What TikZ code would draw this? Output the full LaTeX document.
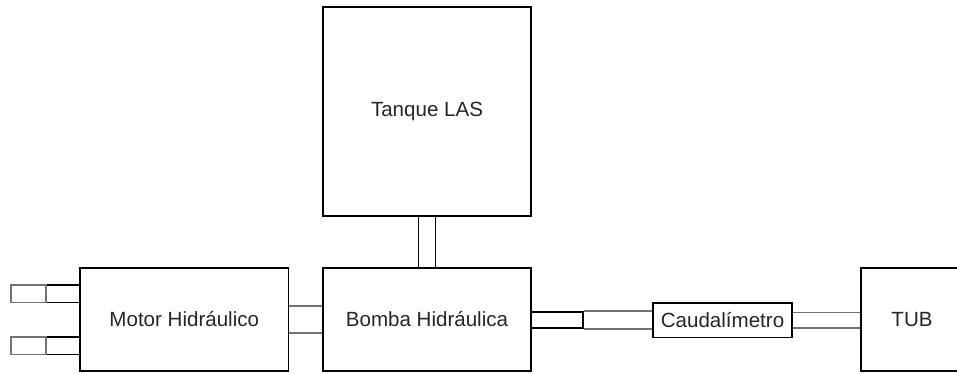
\documentclass[tikz,border=0pt]{standalone}
\usepackage{fontspec}
\setmainfont{Liberation Sans}
\usepackage{tikz}
\usetikzlibrary{positioning,calc}
\newcommand{\lab}{\fontsize{11.7}{14}\selectfont\color{black!85}}
\tikzset{
  unit/.style={rectangle,draw=black,line width=.9pt,inner sep=1pt,font=\lab},
  pipe/.style={rectangle,draw=black,line width=.9pt,inner sep=0pt},
  pipegray/.style={pipe,draw=black!55},
  flow/.style={line width=.9pt,black},
  flowgray/.style={line width=.9pt,black!55}
}
\begin{document}
\begin{tikzpicture}[x=0.02cm,y=-0.02cm]
  \clip (0,0) rectangle (957,373);
  % main units
  \node[unit,minimum width=4.16cm,minimum height=4.17cm] (tank) at (427,111.5) {Tanque LAS};
  \node[unit,minimum width=4.16cm,minimum height=2.06cm] (pump) at (427,319.5) {Bomba Hidráulica};
  \node[unit,minimum width=4.17cm,minimum height=2.06cm] (motor) at (184.3,319.5) {Motor Hidráulico};
  \node[unit,minimum width=2.04cm,minimum height=2.07cm] (tub) at (912,319.5) {TUB};
  \node[unit,minimum width=2.78cm,minimum height=0.70cm] (flowm) at (722.5,320.2) {Caudalímetro};
  % pipe stubs
  \node[pipe,minimum width=1.04cm,minimum height=0.33cm] (pumpout) at (557,320) {};
  \node[pipe,minimum width=0.68cm,minimum height=0.35cm] (inA) at (63,293.7) {};
  \node[pipegray,minimum width=0.70cm,minimum height=0.35cm] (hoseA) at (28.5,293.7) {};
  \node[pipe,minimum width=0.68cm,minimum height=0.35cm] (inB) at (63,345.7) {};
  \node[pipegray,minimum width=0.70cm,minimum height=0.35cm] (hoseB) at (28.5,345.7) {};
  % connections
  \draw[flow] ([xshift=-0.174cm]tank.south) -- ([xshift=-0.174cm]pump.north);
  \draw[flow] ([xshift=0.174cm]tank.south) -- ([xshift=0.174cm]pump.north);
  \draw[flowgray] ([yshift=0.266cm]motor.east) -- ([yshift=0.266cm]pump.west);
  \draw[flowgray] ([yshift=-0.266cm]motor.east) -- ([yshift=-0.266cm]pump.west);
  \draw[flowgray] (pumpout.north east) -- (pumpout.north east -| flowm.west);
  \draw[flowgray] (pumpout.south east) -- (pumpout.south east -| flowm.west);
  \draw[flowgray] ([yshift=0.154cm]flowm.east) -- ([yshift=0.154cm]flowm.east -| tub.west);
  \draw[flowgray] ([yshift=-0.154cm]flowm.east) -- ([yshift=-0.154cm]flowm.east -| tub.west);
\end{tikzpicture}
\end{document}
